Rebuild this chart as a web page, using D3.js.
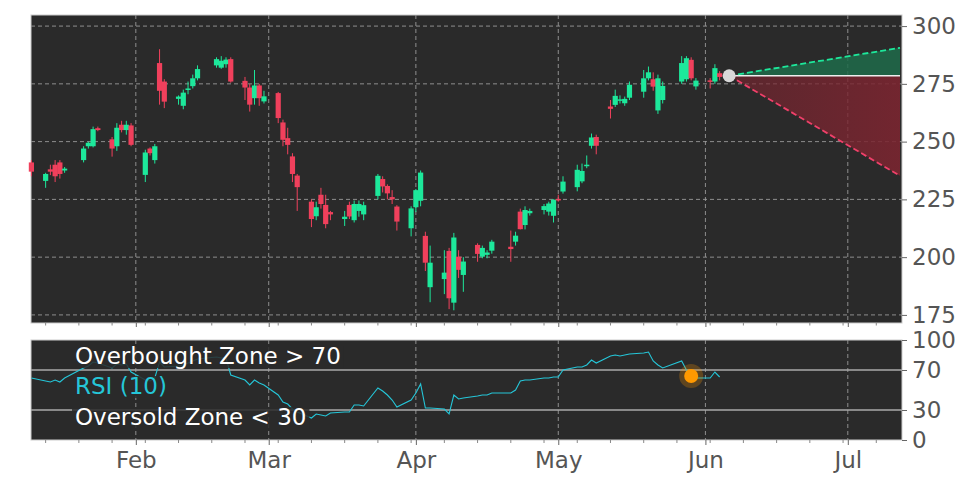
<!DOCTYPE html>
<html>
<head>
<meta charset="utf-8">
<script src="https://cdn.jsdelivr.net/npm/d3@7"></script>
<style>
  body { margin: 0; background: #fff; }
  text { font-family: "DejaVu Sans", sans-serif; }
</style>
</head>
<body>
<svg id="chart" width="972" height="486"></svg>
<script>
// trading days shown
const dates = [
  "2025-01-10","2025-01-13","2025-01-14","2025-01-15","2025-01-16","2025-01-17",
  "2025-01-21","2025-01-22","2025-01-23","2025-01-24",
  "2025-01-27","2025-01-28","2025-01-29","2025-01-30","2025-01-31",
  "2025-02-03","2025-02-04","2025-02-05","2025-02-06","2025-02-07",
  "2025-02-10","2025-02-11","2025-02-12","2025-02-13","2025-02-14",
  "2025-02-18","2025-02-19","2025-02-20","2025-02-21",
  "2025-02-24","2025-02-25","2025-02-26","2025-02-27","2025-02-28",
  "2025-03-03","2025-03-04","2025-03-05","2025-03-06","2025-03-07",
  "2025-03-10","2025-03-11","2025-03-12","2025-03-13","2025-03-14",
  "2025-03-17","2025-03-18","2025-03-19","2025-03-20","2025-03-21",
  "2025-03-24","2025-03-25","2025-03-26","2025-03-27","2025-03-28",
  "2025-03-31","2025-04-01","2025-04-02","2025-04-03","2025-04-04",
  "2025-04-07","2025-04-08","2025-04-09","2025-04-10","2025-04-11",
  "2025-04-14","2025-04-15","2025-04-16","2025-04-17",
  "2025-04-21","2025-04-22","2025-04-23","2025-04-24","2025-04-25",
  "2025-04-28","2025-04-29","2025-04-30","2025-05-01","2025-05-02",
  "2025-05-05","2025-05-06","2025-05-07","2025-05-08","2025-05-09",
  "2025-05-12","2025-05-13","2025-05-14","2025-05-15","2025-05-16",
  "2025-05-19","2025-05-20","2025-05-21","2025-05-22","2025-05-23",
  "2025-05-27","2025-05-28","2025-05-29","2025-05-30",
  "2025-06-02","2025-06-03","2025-06-04"
];
const open = [
  241,233,238,240,241,237.5, 242,248,248,255.8, 251,248,257.3,255,257,
  235.6,247,242,284,276, 268.5,265.5,272.6,274,277.4, 283,282,283.5,285.7,
  276.3,273.4,268.8,274.3,267.4, 271,258.3,251.5,243.6,235.3,
  224,217.7,227,222.6,219.5, 216.5,222.6,216,220,218.5,
  226.5,233.8,230.8,226,221.9, 212.5,221.6,224.4,209.2,187,
  190.5,202.7,180.3,200.2,192.3, 205.3,200.2,201,202.8,
  204.5,206.7,219.7,213.9,219, 220.4,219.7,217.9,225.2,228.4,
  230.3,232.8,239.5,248.2,252, 265.2,265.9,267.7,266.6,269,
  271.6,277.4,277,263.5,268, 276,277,285.4,273.9,
  276.5,276,279.6
];
const close = [
  237,236,237,235,236,238.3, 247,249.5,255.4,255,247,256,255,257.3,248.6,
  245.3,245,248,272,267.3, 269.5,271.2,273,277.4,281.4, 285.7,285,285.5,276,
  273.4,266,274.3,268.8,269.6, 260.2,250.8,248.6,236,230.3,
  216.5,221.6,223,214.3,218.5, 217.5,217.6,223,223,222.5,
  235.2,230.6,227.6,225,215.4, 221.1,229,236.6,197.6,197.6,
  193.3,182.2,208.5,194.5,198.1, 201.4,204,202,206.7,
  203.5,209.3,212.1,220.4,220, 222.1,223.2,224.9,224.8,232.7,
  237.8,237.3,240,251.8,248.2, 264.2,269.8,268.3,268.5,274.6,
  277.4,280,273.8,277.4,274.1, 284,286.1,277.4,276.4,
  276,281.8,278
];
const high = [
  242,236.5,240,242,242,239, 248,250,256.5,256.5, 252,258,259,259,258,
  246.5,247.5,249,290,277, 270,272.5,276,279,283, 286.5,287,286.5,286.5,
  278,275,281,275,272, 271.5,259.5,256,245,236,
  225,224,230,227,220, 220,224,224.5,224.5,224,
  236,235,231.5,229,222.5, 222,229.5,237.5,211,205,
  203,204,210.5,203,200, 206,205,203,207.5,
  211.5,211,221,222,221, 223,224,225,227,235,
  240,240.5,244,253.5,253, 268,272.5,270,269.5,276,
  281,282.5,280,279,276, 287,287,286.5,277.5,
  277.5,283.5,280.5
];
const low = [
  235,230,235.5,232.5,234,236.5, 241,247,247.5,254.5, 243.5,246,254,253,248,
  232.5,244,240.5,266,264.5, 266,264,270.5,273,276.5, 282,281.5,282,275.5,
  268,263,266,265.5,266.5, 258,248,244.5,232.5,220,
  213,216,221,212.5,216, 213.5,216.5,215,217.5,216,
  225,228,225,223,211.5, 209,219.5,222,194,180.5,
  184,177.5,177,191,185, 198,199.5,199.5,201.5,
  198,205,212,212,218, 218.5,218,215,224,227.5,
  228.5,232,238.5,247,244.5, 260,265,266.5,265.5,268,
  269,276.5,272,262,266.5, 275,276,276.5,272.5,
  273,275,276.5
];
const rsi = [
  62,59,58,60,58,62, 72,74,78,77, 72,76,75,76,68,
  60,59,62,78,73, 74,75,77,79,81, 83,82,82,65,
  60,55,60,57,55, 45,38,36,31,28,
  22,26,25,24,27, 28,28,35,35,34,
  52,49,45,40,33, 40,47,56,32,32,
  31,26,45,41,42, 44,45,45,47,
  47,50,59,60,60, 62,62,63,63,70,
  73,73,75,80,77, 84,85,84,85,86,
  87,88,79,75,72, 79,70,64,62,
  62,68,63
];
// forecast cone from the last close
const forecastDates = ["2025-06-06", "2025-07-12"];
const forecastBase = [278.5, 278.5];
const forecastHigh = [278.5, 290.6];
const forecastLow = [278.5, 235.2];
const markerDate = "2025-05-29", markerRsi = 64;
const priceTicks = [175, 200, 225, 250, 275, 300];
const rsiTicks = [0, 30, 70, 100];

const parse = d3.timeParse("%Y-%m-%d");
const svg = d3.select("#chart");
const L = 31, R = 902;
const bg = "#2a2a2a", up = "#1de89b", down = "#f0405c", grid = "#9a9a9a";
const FS = 23;

const x = d3.scaleTime()
  .domain([new Date(2025, 0, 9, 22), new Date(2025, 6, 12, 10)])
  .range([L, R]);
const y = d3.scaleLinear().domain([171.5, 304.8]).range([323, 15]);
const yr = d3.scaleLinear().domain([0, 100]).range([440, 340]);
const months = d3.timeMonth.range(new Date(2025, 1, 1), new Date(2025, 6, 2));
const weeks = d3.timeMonday.range(new Date(2025, 0, 9), new Date(2025, 6, 13));

// panels
svg.append("rect").attr("x", L).attr("y", 15).attr("width", R - L).attr("height", 308)
  .attr("fill", bg).attr("stroke", "#ccc");
svg.append("rect").attr("x", L).attr("y", 340).attr("width", R - L).attr("height", 100)
  .attr("fill", bg).attr("stroke", "#ccc");

// main grid
const g = svg.append("g");
g.selectAll(".hg").data(priceTicks).enter().append("line")
  .attr("x1", L).attr("x2", R).attr("y1", d => y(d)).attr("y2", d => y(d))
  .attr("stroke", grid).attr("stroke-dasharray", "4,3").attr("stroke-width", 0.9);
g.selectAll(".vg").data(months).enter().append("line")
  .attr("x1", d => x(d)).attr("x2", d => x(d)).attr("y1", 15).attr("y2", 323)
  .attr("stroke", grid).attr("stroke-dasharray", "4,3").attr("stroke-width", 0.9);

// candles
const candles = dates.map((d, i) => ({ date: parse(d), o: open[i], h: high[i], l: low[i], c: close[i] }));
const cg = svg.append("g");
cg.selectAll("line").data(candles).enter().append("line")
  .attr("x1", d => x(d.date)).attr("x2", d => x(d.date))
  .attr("y1", d => y(d.h)).attr("y2", d => y(d.l))
  .attr("stroke", d => d.c >= d.o ? up : down).attr("stroke-width", 1);
cg.selectAll("rect").data(candles).enter().append("rect")
  .attr("x", d => x(d.date) - 2.6).attr("width", 5.2)
  .attr("y", d => y(Math.max(d.o, d.c)))
  .attr("height", d => Math.max(1.5, Math.abs(y(d.o) - y(d.c))))
  .attr("fill", d => d.c >= d.o ? up : down);

// forecast cone
const fc = forecastDates.map((d, i) => ({ date: parse(d), b: forecastBase[i], h: forecastHigh[i], l: forecastLow[i] }));
const defs = svg.append("defs");
const gr = defs.append("linearGradient").attr("id", "redg").attr("x1", 0).attr("x2", 1).attr("y1", 0).attr("y2", 0);
gr.append("stop").attr("offset", 0).attr("stop-color", "#7a2530").attr("stop-opacity", 0.6);
gr.append("stop").attr("offset", 1).attr("stop-color", "#7a2530").attr("stop-opacity", 0.9);
svg.append("path").datum(fc)
  .attr("d", d3.area().x(d => x(d.date)).y0(d => y(d.b)).y1(d => y(d.h)))
  .attr("fill", "#1f6b4a").attr("opacity", 0.85);
svg.append("path").datum(fc)
  .attr("d", d3.area().x(d => x(d.date)).y0(d => y(d.b)).y1(d => y(d.l)))
  .attr("fill", "url(#redg)");
svg.append("path").datum(fc).attr("d", d3.line().x(d => x(d.date)).y(d => y(d.b)))
  .attr("stroke", "#eee").attr("stroke-width", 1.6).attr("fill", "none");
svg.append("path").datum(fc).attr("d", d3.line().x(d => x(d.date)).y(d => y(d.h)))
  .attr("stroke", up).attr("stroke-width", 1.8).attr("stroke-dasharray", "6,3").attr("fill", "none");
svg.append("path").datum(fc).attr("d", d3.line().x(d => x(d.date)).y(d => y(d.l)))
  .attr("stroke", "#f0406a").attr("stroke-width", 1.8).attr("stroke-dasharray", "6,3").attr("fill", "none");
svg.append("circle").attr("cx", x(fc[0].date)).attr("cy", y(fc[0].b)).attr("r", 6.5)
  .attr("fill", "#d8d8d8");

// price axis
const ay = svg.append("g").attr("transform", `translate(${R},0)`)
  .call(d3.axisRight(y).tickValues(priceTicks).tickSize(5).tickPadding(5));
ay.selectAll("text").attr("font-size", FS).attr("fill", "#555");
ay.select(".domain").remove();
ay.selectAll("line").attr("stroke", "#666");

// time ticks under the main panel
const axm = svg.append("g").attr("transform", "translate(0,323)")
  .call(d3.axisBottom(x).tickValues(months).tickSize(4).tickFormat(""));
axm.select(".domain").remove();
axm.selectAll("line").attr("stroke", "#666");
svg.append("g").selectAll("line").data(weeks).enter().append("line")
  .attr("x1", d => x(d)).attr("x2", d => x(d)).attr("y1", 323).attr("y2", 325.5).attr("stroke", "#888");

// rsi panel
const rg = svg.append("g");
rg.selectAll("line.v").data(months).enter().append("line")
  .attr("x1", d => x(d)).attr("x2", d => x(d)).attr("y1", 340).attr("y2", 440)
  .attr("stroke", grid).attr("stroke-dasharray", "4,3").attr("stroke-width", 0.9);
rg.selectAll("line.h").data([30, 70]).enter().append("line")
  .attr("x1", L).attr("x2", R).attr("y1", d => yr(d)).attr("y2", d => yr(d))
  .attr("stroke", "#aaa").attr("stroke-width", 1.3);
const rsiPts = dates.map((d, i) => ({ date: parse(d), v: rsi[i] }));
rg.append("path").datum(rsiPts)
  .attr("d", d3.line().x(d => x(d.date)).y(d => yr(d.v)))
  .attr("stroke", "#25c6d8").attr("stroke-width", 1.1).attr("fill", "none");
rg.append("circle").attr("cx", x(parse(markerDate))).attr("cy", yr(markerRsi)).attr("r", 12)
  .attr("fill", "#ff9900").attr("opacity", 0.25);
rg.append("circle").attr("cx", x(parse(markerDate))).attr("cy", yr(markerRsi)).attr("r", 7)
  .attr("fill", "#ff9900");

const labels = [
  { t: "Overbought Zone > 70", y: 364, c: "#fff" },
  { t: "RSI (10)", y: 394, c: "#25c6d8" },
  { t: "Oversold Zone < 30", y: 425, c: "#fff" }
];
labels.forEach(l => {
  const t = rg.append("text").attr("x", 75).attr("y", l.y).attr("fill", l.c)
    .attr("font-size", FS).text(l.t);
  const b = t.node().getBBox();
  rg.insert("rect", "text").attr("x", b.x - 3).attr("y", b.y + 3).attr("width", b.width + 6)
    .attr("height", b.height - 4).attr("fill", bg).attr("opacity", 0.85);
});

const ar = svg.append("g").attr("transform", `translate(${R},0)`)
  .call(d3.axisRight(yr).tickValues(rsiTicks).tickSize(5).tickPadding(5));
ar.selectAll("text").attr("font-size", FS).attr("fill", "#555");
ar.select(".domain").remove();
ar.selectAll("line").attr("stroke", "#666");

const ax = svg.append("g").attr("transform", "translate(0,440)")
  .call(d3.axisBottom(x).tickValues(months).tickSize(5).tickPadding(7).tickFormat(d3.timeFormat("%b")));
ax.selectAll("text").attr("font-size", FS).attr("fill", "#555");
ax.select(".domain").remove();
ax.selectAll("line").attr("stroke", "#666");
svg.append("g").selectAll("line").data(weeks).enter().append("line")
  .attr("x1", d => x(d)).attr("x2", d => x(d)).attr("y1", 440).attr("y2", 443).attr("stroke", "#888");
</script>
</body>
</html>
